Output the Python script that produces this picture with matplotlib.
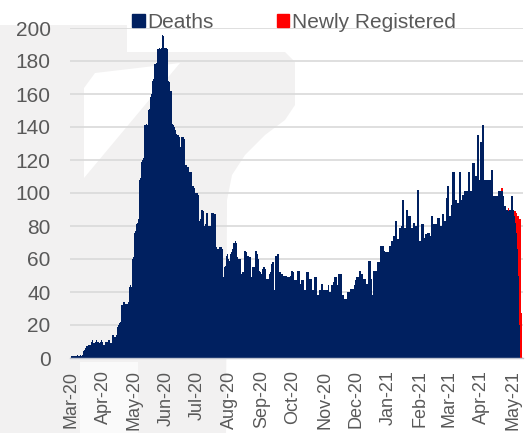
import matplotlib
matplotlib.use('Agg')
import matplotlib.pyplot as plt
import matplotlib.dates as mdates
from matplotlib.patches import Polygon, Patch
import pandas as pd

plt.rcParams['font.family'] = ['Liberation Sans', 'DejaVu Sans']

start = '2020-03-01'

# daily deaths, one value per day from 1 Mar 2020
deaths = [
    1, 1, 1, 1, 1, 1, 2, 1, 1, 2, 1, 2,
    4, 5, 6, 7, 7, 8, 8, 8,
    10, 11, 9, 9, 10, 11, 10, 9, 10, 11,
    10, 8, 8, 10, 10, 10, 11, 11, 9, 9,
    14, 14, 13, 13, 14,
    19, 20, 21, 22, 32,
    32, 34, 34, 33, 33, 34, 43, 44, 43, 60,
    61, 76, 77, 81, 82, 84, 108, 109, 119, 120,
    121, 141, 141, 142, 141, 150, 151, 158, 160, 168,
    169, 178, 179, 187, 187, 188, 187, 188, 196, 195,
    188, 188, 188, 187, 168, 167, 162, 162, 142, 141,
    140, 138, 136, 135, 135, 134, 128, 134, 134, 133,
    117, 117, 116, 116, 113, 113, 113, 104, 104, 103,
    100, 100, 100, 99, 83, 84, 90, 90, 89, 80,
    81, 88, 88, 80, 80, 80, 88, 88, 87, 87,
    67, 66, 66, 67, 67, 67, 66, 49, 55, 56,
    62, 63, 60, 59, 63, 64, 66, 70, 70, 71,
    70, 61, 60, 60, 51, 52, 52, 65, 65, 64,
    62, 62, 61, 61, 49, 55, 55, 55, 65, 65,
    63, 60, 53, 52, 51, 54, 55, 55, 54, 48,
    48, 51, 52, 57, 58, 58, 41, 62, 62, 63,
    63, 52, 52, 51, 51, 50, 50, 50, 50, 49,
    49, 49, 50, 53, 53, 52, 47, 47, 53, 53,
    53, 45, 47, 47, 47, 41, 41, 52, 52, 52,
    48, 48, 48, 41, 41, 49, 49, 49, 38, 38,
    41, 41, 45, 45, 41, 41, 41, 41, 44, 40,
    40, 44, 44, 46, 49, 49, 49, 44, 51, 51,
    51, 51, 38, 38, 36, 36, 36, 40, 40, 40,
    42, 42, 42, 44, 47, 49, 49, 49, 53, 53,
    51, 51, 48, 48, 48, 45, 45, 59, 59, 59,
    48, 38, 53, 53, 53, 53, 58, 58, 58, 68,
    68, 68, 65, 64, 64, 64, 64, 68, 68, 71,
    71, 74, 74, 83, 83, 72, 72, 79, 79, 80,
    96, 96, 79, 79, 90, 90, 86, 86, 79, 79,
    82, 82, 80, 80, 102, 102, 71, 71, 81, 81,
    81, 73, 75, 75, 76, 76, 76, 74, 86, 86,
    81, 81, 81, 81, 85, 85, 80, 80, 87, 87,
    83, 83, 97, 104, 104, 86, 86, 93, 113, 113,
    113, 96, 96, 94, 94, 113, 113, 96, 99, 99,
    101, 101, 101, 113, 113, 101, 101, 118, 118, 118,
    110, 110, 135, 135, 108, 131, 131, 141, 141, 108,
    108, 108, 108, 108, 108, 108, 114, 114, 98, 98,
    98, 98, 101, 101, 101, 101, 101, 98, 92, 92,
    90, 90, 89, 90, 90, 98, 98, 90, 86, 82,
    76, 66, 50, 20, 0, 0,
]

# newly registered, stacked on top, for the last 22 days
new_reg_tail = [0, 2, 2, 0, 0, 0, 0, 0, 2, 0, 0,
                0, 0, 0, 3, 7, 12, 20, 36, 64, 84, 27]

new_reg = [0] * (len(deaths) - len(new_reg_tail)) + new_reg_tail
dates = pd.date_range(start, periods=len(deaths), freq='D')

navy = '#002060'
red = '#ff0000'
txt = '#595959'

fig = plt.figure(figsize=(5.28, 4.33), dpi=100)
fig.patch.set_facecolor('white')

# faint watermark shape behind the chart
bg = fig.add_axes([0, 0, 1, 1], zorder=0)
bg.set_xlim(0, 528)
bg.set_ylim(433, 0)
bg.axis('off')
bg.add_patch(Polygon([(0, 25), (127, 25), (127, 52), (285, 52), (295, 62), (295, 105),
                      (285, 120), (265, 135), (245, 155), (232, 175), (227, 200),
                      (226, 433), (0, 433)], closed=True, fc='#f2f1f1', ec='none'))
bg.add_patch(Polygon([(84, 178), (84, 88), (95, 73), (180, 63)], closed=True,
                     fc='white', ec='none'))
bg.add_patch(Polygon([(80, 362), (138, 362), (138, 433), (80, 433)], closed=True,
                     fc='#fafafa', ec='none'))

ax = fig.add_axes([70 / 528, 1 - 358 / 433, 453 / 528, 330 / 433], zorder=1)
ax.set_facecolor('none')

ax.bar(dates, deaths, width=1.0, color=navy, linewidth=0, zorder=2)
ax.bar(dates, new_reg, width=1.0, bottom=deaths, color=red, linewidth=0, zorder=2)

ax.set_ylim(0, 200)
ax.set_yticks(range(0, 201, 20))
x0 = pd.Timestamp(start)
ax.set_xlim(x0 - pd.Timedelta(days=1), x0 + pd.Timedelta(days=436))
ax.xaxis.set_major_locator(mdates.MonthLocator())
ax.xaxis.set_major_formatter(mdates.DateFormatter('%b-%y'))

ax.yaxis.grid(True, color='#d9d9d9', linewidth=1.2, zorder=0)
ax.set_axisbelow(True)
for s in ['top', 'right', 'left']:
    ax.spines[s].set_visible(False)
ax.spines['bottom'].set_color('#c0c4d0')
ax.spines['bottom'].set_linewidth(1.0)

ax.tick_params(axis='y', length=0, pad=14, labelsize=15, labelcolor=txt)
ax.tick_params(axis='x', length=0, pad=9, labelsize=13, labelcolor=txt)
plt.setp(ax.get_xticklabels(), rotation=90, ha='center')

handles = [Patch(color=navy, label='Deaths'), Patch(color=red, label='Newly Registered')]
fig.legend(handles=handles, loc='center', bbox_to_anchor=(0.557, 0.949), ncol=2,
           frameon=False, fontsize=15, labelcolor=txt, handlelength=0.6,
           handleheight=0.6, handletextpad=0.15, columnspacing=3.0,
           borderaxespad=0, borderpad=0)

fig.savefig('out.png', dpi=100, facecolor=fig.get_facecolor())
